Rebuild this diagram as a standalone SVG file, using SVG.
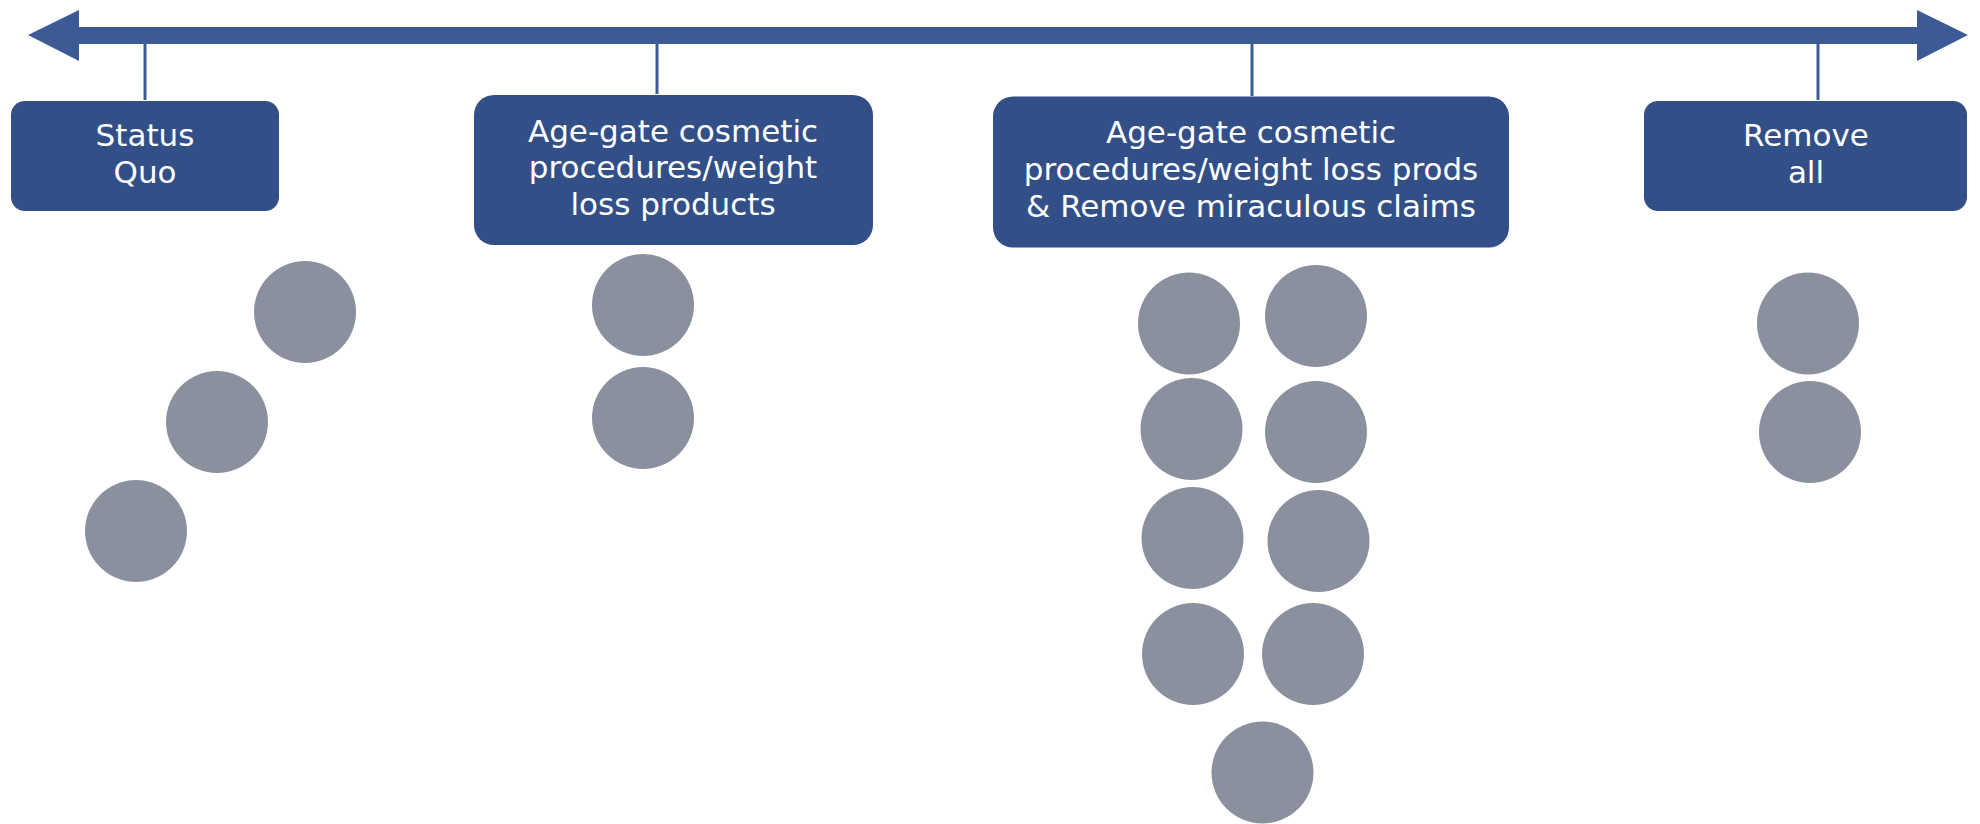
<svg xmlns="http://www.w3.org/2000/svg" width="1980" height="824" viewBox="0 0 1980 824">
  <style>
    .box { fill: #324f87; }
    .lbl { fill: #ffffff; font-family: "DejaVu Sans", "Open Sans", sans-serif; font-size: 31px; text-anchor: middle; }
    .tick { stroke: #3c5b96; stroke-width: 3; fill: none; }
    .dot { fill: #8a909e; }
  </style>
  <rect width="1980" height="824" fill="#ffffff"/>

  <!-- axis and tick connectors -->
  <g id="connectors">
    <polygon fill="#3c5b96" points="28,35 79,10 79,27 1917,27 1917,10 1968,35 1917,61 1917,44 79,44 79,61"/>
    <line class="tick" x1="145" y1="44" x2="145" y2="100"/>
    <line class="tick" x1="657" y1="44" x2="657" y2="94"/>
    <line class="tick" x1="1252" y1="44" x2="1252" y2="96"/>
    <line class="tick" x1="1818" y1="44" x2="1818" y2="100"/>
  </g>

  <g id="status-quo">
    <rect class="box" x="11" y="101" width="268" height="110" rx="14"/>
    <text class="lbl"><tspan x="145" y="145.5">Status</tspan><tspan x="145" y="182.5">Quo</tspan></text>
    <circle class="dot" cx="305" cy="312" r="51"/>
    <circle class="dot" cx="217" cy="422" r="51"/>
    <circle class="dot" cx="136" cy="531" r="51"/>
  </g>

  <g id="age-gate">
    <rect class="box" x="474" y="95" width="399" height="150" rx="20"/>
    <text class="lbl"><tspan x="673" y="141.5">Age-gate cosmetic</tspan><tspan x="673" y="178">procedures/weight</tspan><tspan x="673" y="214.5">loss products</tspan></text>
    <circle class="dot" cx="643" cy="305" r="51"/>
    <circle class="dot" cx="643" cy="418" r="51"/>
  </g>

  <g id="age-gate-claims">
    <rect class="box" x="993" y="96.5" width="516" height="151" rx="20"/>
    <text class="lbl"><tspan x="1251" y="142.5">Age-gate cosmetic</tspan><tspan x="1251" y="180">procedures/weight loss prods</tspan><tspan x="1251" y="217">&amp; Remove miraculous claims</tspan></text>
    <circle class="dot" cx="1189" cy="323.5" r="51"/>
    <circle class="dot" cx="1191.5" cy="429" r="51"/>
    <circle class="dot" cx="1192.5" cy="538" r="51"/>
    <circle class="dot" cx="1193" cy="654" r="51"/>
    <circle class="dot" cx="1316" cy="316" r="51"/>
    <circle class="dot" cx="1316" cy="432" r="51"/>
    <circle class="dot" cx="1318.5" cy="541" r="51"/>
    <circle class="dot" cx="1313" cy="654" r="51"/>
    <circle class="dot" cx="1262.5" cy="772.5" r="51"/>
  </g>

  <g id="remove-all">
    <rect class="box" x="1644" y="101" width="323" height="110" rx="14"/>
    <text class="lbl"><tspan x="1806" y="145.5">Remove</tspan><tspan x="1806" y="182.5">all</tspan></text>
    <circle class="dot" cx="1808" cy="323.5" r="51"/>
    <circle class="dot" cx="1810" cy="432" r="51"/>
  </g>
</svg>
